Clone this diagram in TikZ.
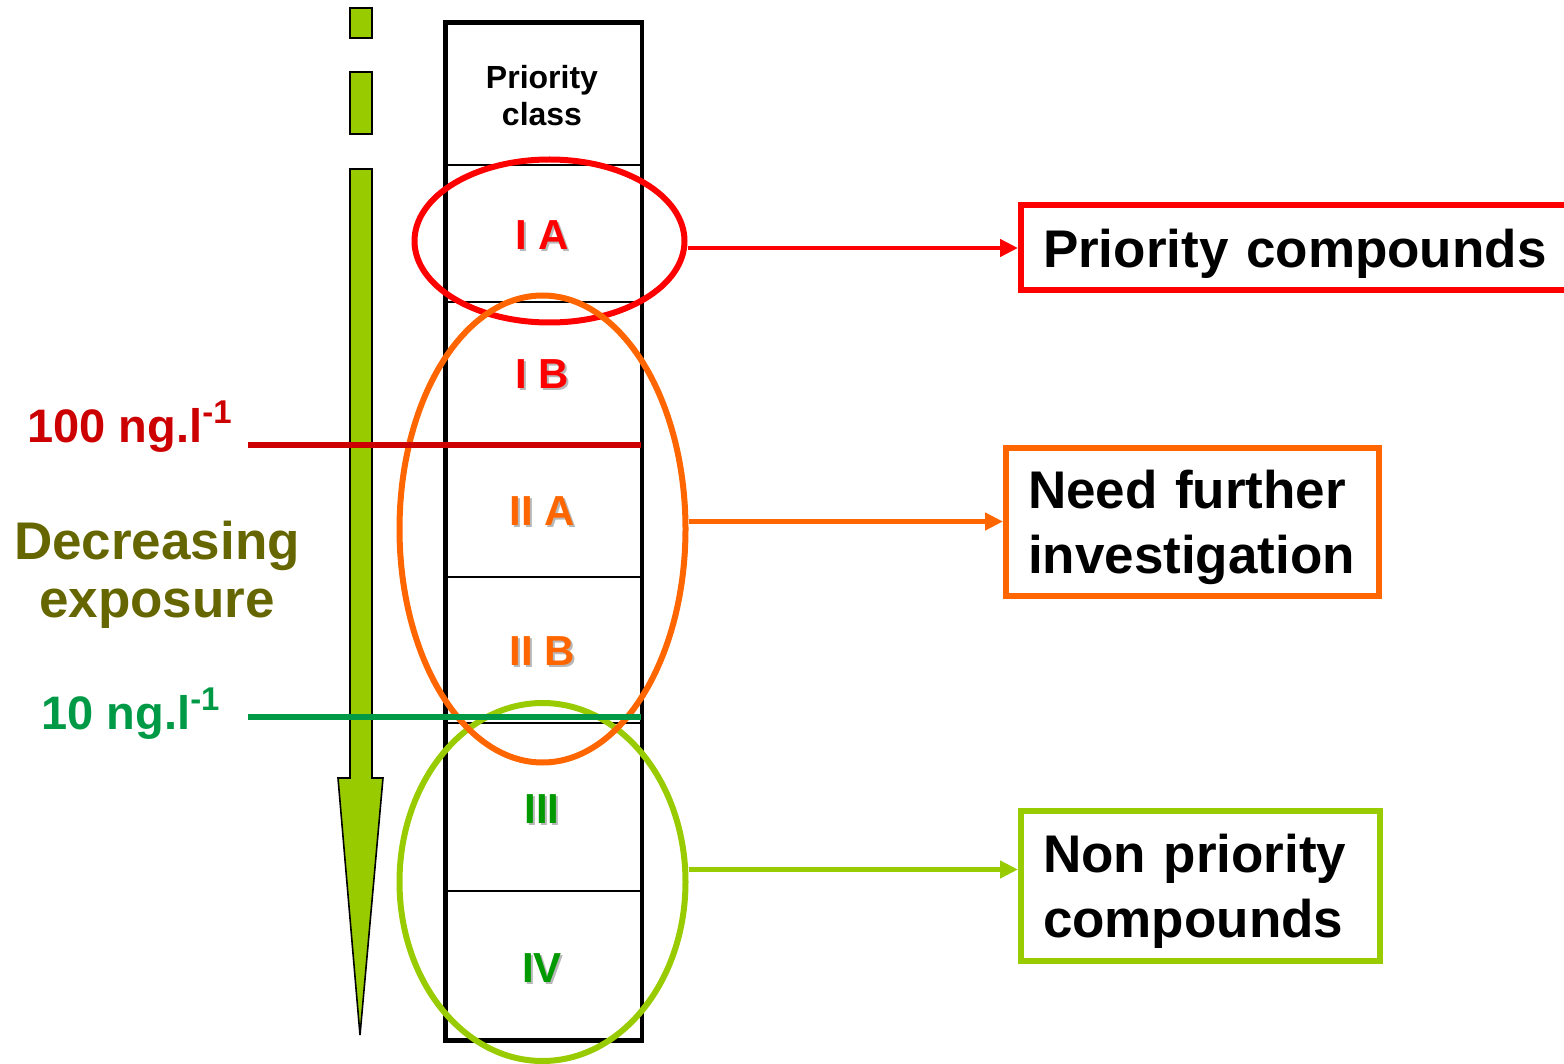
\documentclass[tikz,border=0pt]{standalone}
\usepackage{fontspec}
\setmainfont{Liberation Sans}
\usetikzlibrary{arrows.meta,shapes.geometric}
\definecolor{cred}{HTML}{FF0000}
\definecolor{corange}{HTML}{FF6600}
\definecolor{clime}{HTML}{99CC00}
\definecolor{cgreen}{HTML}{009900}
\definecolor{tgreen}{HTML}{009A46}
\definecolor{tred}{HTML}{CC0000}
\definecolor{colive}{HTML}{666600}
\definecolor{cshadow}{HTML}{B8B8B8}

% class label with a soft drop shadow
\newcommand\classlabel[4]{%
  \node[numtext,text=cshadow] at ([xshift=1pt,yshift=-1pt]#2) {#4};
  \node[numtext,text=#3] (#1) at (#2) {#4};}
% taller first line, to sit the box text a little lower
\newcommand\boxstrut{\rule{0pt}{25pt}}

\begin{document}
\begin{tikzpicture}[x=0.5pt,y=-0.5pt,
  numtext/.style={anchor=base,inner sep=0pt,font=\fontsize{21}{25}\selectfont\bfseries},
  divider/.style={line width=1pt},
  group/.style={ellipse,draw,line width=3pt,inner sep=0pt},
  outbox/.style={draw,line width=3pt,align=left,anchor=west,inner xsep=11pt,
    font=\fontsize{26.5}{32.5}\selectfont\bfseries},
  link/.style={line width=2.2pt,-{Triangle[length=9pt,width=8.5pt]}},
  level/.style={line width=2.8pt},
  levtext/.style={anchor=base west,inner sep=0pt,font=\fontsize{23.5}{28}\selectfont\bfseries},
  barpart/.style={draw=black,line width=0.8pt,fill=clime}]
\useasboundingbox (0,0) rectangle (1564,1064);

% dashed exposure arrow
\path[barpart] (350,8) rectangle (372,38);
\path[barpart] (350,72) rectangle (372,134);
\path[barpart] (350,169) -- (372,169) -- (372,778) -- (383,778) -- (360,1035)
  -- (338,778) -- (350,778) -- cycle;

% priority class column
\draw[line width=2.4pt,fill=white] (445.5,22.5) rectangle (642,1040.5);
\foreach \yy in {165,302,443,577,723,891}
  \draw[divider] (445.5,\yy) -- (642,\yy);

\node[align=center,inner sep=0pt,font=\fontsize{16}{18.5}\selectfont\bfseries]
  (head) at (542,96) {Priority\\class};

\classlabel{ia}{542,250}{cred}{I A}
\classlabel{ib}{542,388}{cred}{I B}
\classlabel{iia}{542,525}{corange}{II A}
\classlabel{iib}{542,665}{corange}{II B}
\classlabel{iii}{542,823}{cgreen}{III}
\classlabel{iv}{542,982}{cgreen}{IV}

% groupings
\node[group,draw=clime,minimum width=143pt,minimum height=179pt] (gnon) at (542.5,882) {};
\node[group,draw=cred,minimum width=135pt,minimum height=81.5pt] (gpri) at (549.5,241) {};
\node[group,draw=corange,minimum width=143pt,minimum height=233.5pt] (gfur) at (542.5,529) {};

% concentration levels
\coordinate (l100a) at (248,445);
\coordinate (l100b) at (641,445);
\coordinate (l10a) at (248,717);
\coordinate (l10b) at (641,717);
\draw[level,draw=tred] (l100a) -- (l100b);
\draw[level,draw=tgreen] (l10a) -- (l10b);
\node[levtext,text=tred] (t100) at (27,442) {100 ng.l\textsuperscript{-1}};
\node[levtext,text=tgreen] (t10) at (41,729) {10 ng.l\textsuperscript{-1}};

\node[align=center,inner sep=0pt,text=colive,
  font=\fontsize{26.5}{29}\selectfont\bfseries] (decr) at (157,575) {Decreasing\\exposure};

% outcome boxes
\node[outbox,draw=cred,text width=269pt,minimum height=42.5pt]
  (bpri) at (1018,248) {\boxstrut Priority compounds};
\node[outbox,draw=corange,text width=164.5pt,minimum height=74pt]
  (bfur) at (1003,521.5) {\boxstrut Need further\\investigation};
\node[outbox,draw=clime,text width=157.5pt,minimum height=75pt]
  (bnon) at (1018,885.5) {\boxstrut Non priority\\compounds};

\draw[link,draw=cred,fill=cred] (gpri.east |- bpri.west) -- (bpri.west);
\draw[link,draw=corange,fill=corange] (gfur.east |- bfur.west) -- (bfur.west);
\draw[link,draw=clime,fill=clime] ([yshift=8pt]gnon.east |- bnon.west) -- ([yshift=8pt]bnon.west);
\end{tikzpicture}
\end{document}
